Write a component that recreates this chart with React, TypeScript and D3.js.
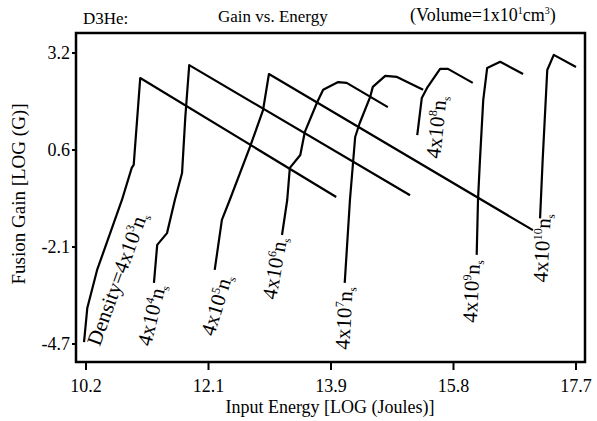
import React from 'react';
import * as d3 from 'd3';

const W = 597;
const H = 421;
const frame = { left: 76, right: 585, top: 33, bottom: 362 };

const energyDomain = [10.2, 17.7];
const gainDomain = [-4.7, 3.2];
const xTickLabels = ['10.2', '12.1', '13.9', '15.8', '17.7'];
const yTickLabels = ['3.2', '0.6', '-2.1', '-4.7'];

// [log energy, log gain], one list per density
const density3 = [[10.17, -4.65], [10.22, -3.72], [10.37, -2.69], [10.57, -1.69], [10.75, -0.79], [10.9, 0.08], [10.93, 0.16], [11.03, 2.52], [14.03, -0.71]];
const density4 = [[11.24, -3.04], [11.29, -2.01], [11.44, -1.69], [11.56, -0.79], [11.67, -0.06], [11.72, 1.46], [11.78, 2.87], [15.16, -0.66]];
const density5 = [[12.17, -2.69], [12.28, -1.33], [12.4, -0.79], [12.71, 0.65], [12.91, 1.65], [13.0, 2.63], [17.04, -1.61]];
const density6 = [[13.2, -1.74], [13.28, -0.79], [13.32, 0.08], [13.48, 0.43], [13.55, 1.06], [13.74, 1.87], [13.83, 2.2], [14.06, 2.41], [14.19, 2.39], [14.82, 1.73]];
const density7 = [[14.16, -3.04], [14.24, -0.79], [14.32, 0.92], [14.39, 1.3], [14.55, 2.01], [14.59, 2.28], [14.78, 2.58], [14.96, 2.55], [15.36, 2.2]];
const density8 = [[15.27, 0.97], [15.34, 1.98], [15.42, 2.25], [15.62, 2.77], [15.74, 2.77], [16.12, 2.39]];
const density9 = [[16.18, -2.28], [16.2, -0.79], [16.23, 0.3], [16.28, 1.92], [16.34, 2.79], [16.54, 2.96], [16.89, 2.63]];
const density10 = [[17.15, -1.29], [17.19, 0.3], [17.26, 2.74], [17.36, 3.15], [17.7, 2.82]];

const curves = [density3, density4, density5, density6, density7, density8, density9, density10];
const densityExponents = ['3', '4', '5', '6', '7', '8', '9', '10'];

// label anchor (energy, gain) and rotation
const labelPlace = [
  [10.41, -4.78, -70], [11.19, -4.78, -76], [12.16, -4.51, -73], [13.11, -3.51, -80],
  [14.23, -4.86, -87], [15.62, 0.32, -84], [16.18, -4.13, -87], [17.26, -3.04, -87],
];

const serif = '"Liberation Serif", "Times New Roman", serif';

export default function App() {
  const x = d3.scaleLinear().domain(energyDomain).range([86, 576]);
  const y = d3.scaleLinear().domain(gainDomain).range([344, 53]);
  const line = d3.line<number[]>().x(d => x(d[0])).y(d => y(d[1]));

  const xTicks = xTickLabels.map((t, i) => energyDomain[0] + i * (energyDomain[1] - energyDomain[0]) / 4);
  const yTicks = yTickLabels.map((t, i) => gainDomain[1] - i * (gainDomain[1] - gainDomain[0]) / 3);

  return (
    <svg width={W} height={H} style={{ position: 'absolute', left: 0, top: 0, background: '#fff' }} fontFamily={serif}>
      <rect x={0} y={0} width={W} height={H} fill="#fff" />

      <text x={83} y={24} fontSize={17}>D3He:</text>
      <text x={218} y={22} fontSize={17}>Gain vs. Energy</text>
      <text x={410} y={21} fontSize={18}>
        (Volume=1x10<tspan dy={-7} fontSize={10}>1</tspan><tspan dy={7}>cm</tspan><tspan dy={-7} fontSize={10}>3</tspan><tspan dy={7}>)</tspan>
      </text>

      {curves.map((c, i) => (
        <path key={i} d={line(c) || ''} fill="none" stroke="#000" strokeWidth={2.2} strokeLinejoin="round" />
      ))}

      {labelPlace.map((p, i) => (
        <text key={i} transform={`translate(${x(p[0])},${y(p[1])}) rotate(${p[2]})`} fontSize={21}>
          {i === 0 ? 'Density=' : ''}4x10<tspan dy={-8} fontSize={12}>{densityExponents[i]}</tspan>
          <tspan dy={8}>n</tspan><tspan dy={4} fontSize={11}>s</tspan>
        </text>
      ))}

      <rect x={frame.left} y={frame.top} width={frame.right - frame.left} height={frame.bottom - frame.top}
        fill="none" stroke="#000" strokeWidth={2.5} />

      {xTicks.map((v, i) => (
        <g key={i}>
          <line x1={x(v)} x2={x(v)} y1={frame.bottom} y2={frame.bottom + 8} stroke="#000" strokeWidth={2} />
          <text x={x(v)} y={392} textAnchor="middle" fontSize={18}>{xTickLabels[i]}</text>
        </g>
      ))}
      {yTicks.map((v, i) => (
        <g key={i}>
          <line x1={frame.left - 4} x2={frame.left} y1={y(v)} y2={y(v)} stroke="#000" strokeWidth={2} />
          <text x={70} y={y(v) + 6} textAnchor="end" fontSize={18}>{yTickLabels[i]}</text>
        </g>
      ))}

      <text x={330} y={413} textAnchor="middle" fontSize={18}>Input Energy [LOG (Joules)]</text>
      <text transform="translate(25,194) rotate(-90)" textAnchor="middle" fontSize={19}>Fusion Gain [LOG (G)]</text>
    </svg>
  );
}
